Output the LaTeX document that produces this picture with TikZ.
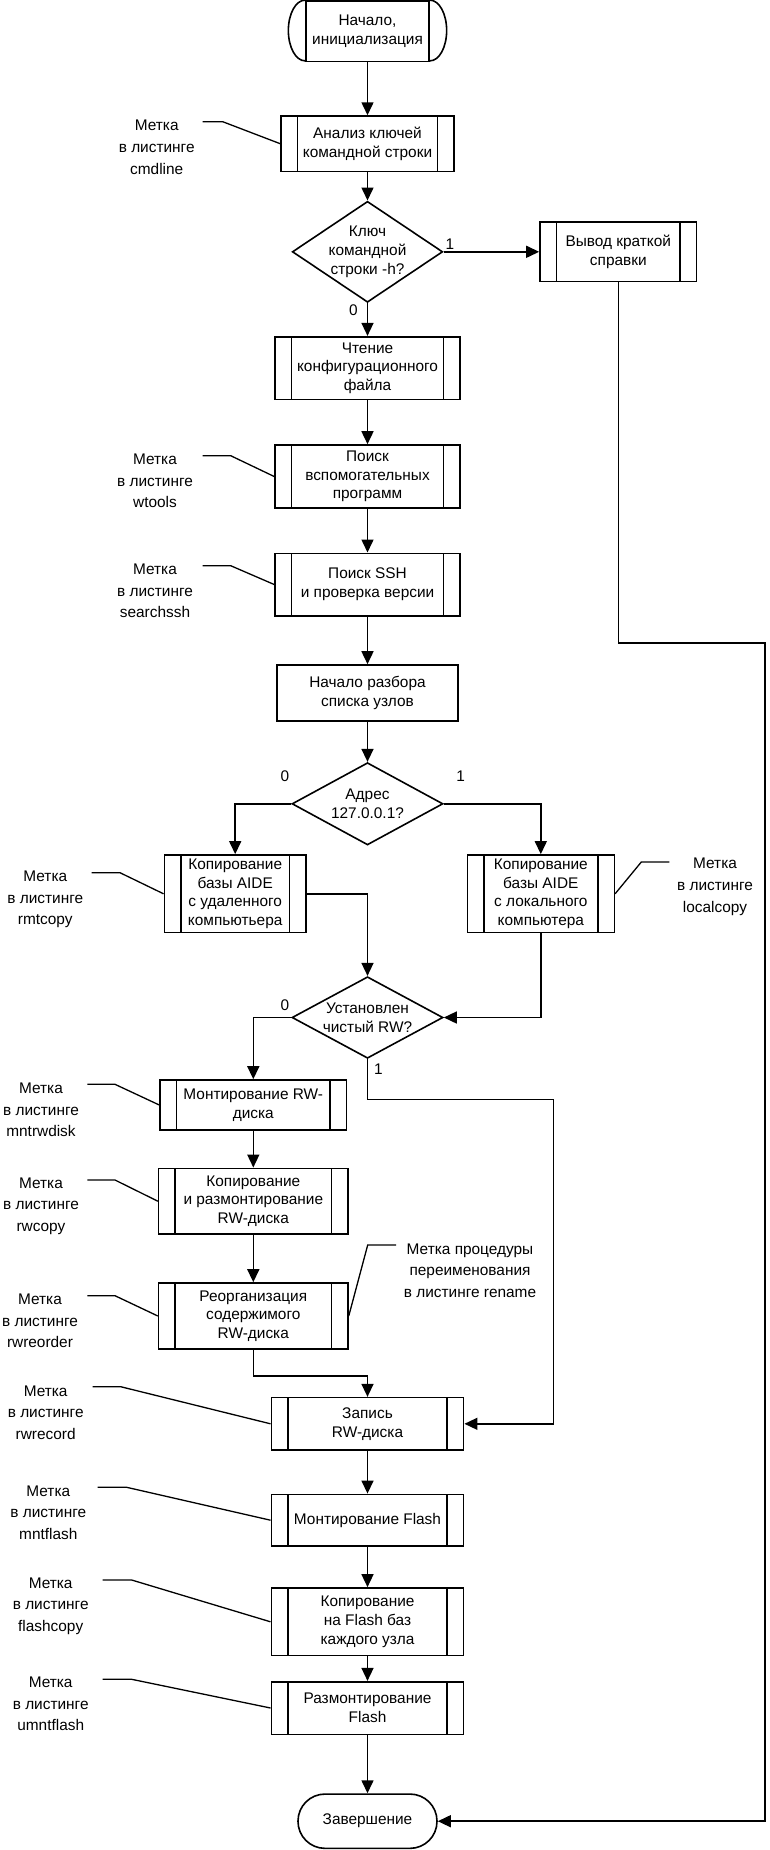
\documentclass[tikz,border=0pt]{standalone}
\usepackage{fontspec}
\setmainfont{Liberation Sans}
\usetikzlibrary{arrows.meta,shapes.geometric}
\begin{document}
\begin{tikzpicture}[x=1pt,y=-1pt,
  every node/.style={font=\fontsize{15.4}{18.7}\selectfont, align=center, inner sep=0pt},
  plainbox/.style={draw, line width=1.6pt, rectangle},
  proc/.style={draw, line width=1.6pt, rectangle, path picture={
    \draw[line width=1.6pt] ([xshift=16.5pt]path picture bounding box.north west) -- ([xshift=16.5pt]path picture bounding box.south west);
    \draw[line width=1.6pt] ([xshift=-16.5pt]path picture bounding box.north east) -- ([xshift=-16.5pt]path picture bounding box.south east);}},
  term/.style={draw, line width=1.6pt, rectangle, rounded corners=27pt},
  lbl/.style={font=\fontsize{15.4}{21.7}\selectfont},
  conn/.style={line width=1.5pt, -{Triangle[length=13pt,width=12pt]}},
  lead/.style={line width=1.3pt},
  flag/.style={font=\fontsize{15.4}{18}\selectfont}
]
\useasboundingbox (0,0) rectangle (769,1850);

% ---- shapes ----
\node[draw, line width=1.6pt, rectangle, minimum width=123.3pt, minimum height=60.7pt] (start) at (367.5,31.3) {Начало,\\инициализация};
\draw[line width=1.6pt] (start.north west) arc[start angle=90, end angle=270, x radius=16.7pt, y radius=30.35pt];
\draw[line width=1.6pt] (start.north east) arc[start angle=90, end angle=-90, x radius=16.7pt, y radius=30.35pt];

\node[proc, minimum width=173pt, minimum height=55.3pt] (cmd) at (367.5,143.7) {Анализ ключей\\командной строки};

\node[draw, line width=1.6pt, diamond, minimum width=150.4pt, minimum height=101pt] (d1) at (367.5,251.8) {};
\node (d1t) at (d1.center) {Ключ\\командной\\строки -h?};

\node[proc, minimum width=156.7pt, minimum height=59.4pt] (help) at (618.3,251.8) {Вывод краткой\\справки};

\node[proc, minimum width=185pt, minimum height=62.6pt] (read) at (367.5,368) {Чтение\\конфигурационного\\файла};
\node[proc, minimum width=185pt, minimum height=63pt] (wtools) at (367.5,476.5) {Поиск\\вспомогательных\\программ};
\node[proc, minimum width=185pt, minimum height=62.4pt] (ssh) at (367.5,584.5) {Поиск SSH\\и проверка версии};
\node[plainbox, minimum width=181pt, minimum height=56pt] (parse) at (367.5,693) {Начало разбора\\списка узлов};

\node[draw, line width=1.6pt, diamond, minimum width=151pt, minimum height=82.3pt] (d2) at (367.5,803.8) {};
\node (d2t) at (d2.center) {Адрес\\127.0.0.1?};

\node[proc, minimum width=141.7pt, minimum height=77.7pt] (rmt) at (235.2,893.8) {Копирование\\базы AIDE\\с удаленного\\компьютьера};
\node[proc, minimum width=147pt, minimum height=77.7pt] (loc) at (540.8,893.8) {Копирование\\базы AIDE\\с локального\\компьютера};

\node[draw, line width=1.6pt, diamond, minimum width=151pt, minimum height=81.6pt] (d3) at (367.5,1017.5) {};
\node (d3t) at (d3.center) {Установлен\\чистый RW?};

\node[proc, minimum width=186.4pt, minimum height=50pt] (mnt) at (253.3,1105) {Монтирование RW-\\диска};
\node[proc, minimum width=189.3pt, minimum height=65.7pt] (rwc) at (253.3,1201.2) {Копирование\\и размонтирование\\RW-диска};
\node[proc, minimum width=189.3pt, minimum height=66pt] (reo) at (253.3,1316) {Реорганизация\\содержимого\\RW-диска};

\node[proc, minimum width=192.3pt, minimum height=52.3pt] (rec) at (367.5,1423.8) {Запись\\RW-диска};
\node[proc, minimum width=192.3pt, minimum height=51.7pt] (mfl) at (367.5,1520.2) {Монтирование Flash};
\node[proc, minimum width=192.3pt, minimum height=67.7pt] (fcp) at (367.5,1621.8) {Копирование\\на Flash баз\\каждого узла};
\node[proc, minimum width=192.3pt, minimum height=52.6pt] (umf) at (367.5,1708) {Размонтирование\\Flash};
\node[term, minimum width=139pt, minimum height=54.3pt] (end) at (367.5,1821.2) {Завершение};

% ---- connectors ----
\draw[conn] (start) -- (cmd);
\draw[conn] (cmd) -- (d1.north);
\draw[conn] (d1.east) -- (help.west);
\draw[conn] (d1.south) -- (read.north);
\coordinate (hturn) at (618.3,643);
\coordinate (hright) at (765,643);
\draw[conn] (help.south) -- (hturn) -- (hright) |- (end.east);
\draw[conn] (read) -- (wtools);
\draw[conn] (wtools) -- (ssh);
\draw[conn] (ssh) -- (parse);
\draw[conn] (parse) -- (d2.north);
\draw[conn] (d2.west) -| (rmt.north);
\draw[conn] (d2.east) -| (loc.north);
\draw[conn] (rmt.east) -| (d3.north);
\draw[conn] (loc.south) |- (d3.east);
\draw[conn] (d3.west) -| (mnt.north);
\coordinate (d3jog) at (553.3,1099.3);
\draw[conn] (d3.south) |- (d3jog) |- (rec.east);
\draw[conn] (mnt) -- (rwc);
\draw[conn] (rwc) -- (reo);
\draw[conn] (reo.south) -- ++(0,26.3) -| (rec.north);
\draw[conn] (rec) -- (mfl);
\draw[conn] (mfl) -- (fcp);
\draw[conn] (fcp) -- (umf);
\draw[conn] (umf) -- (end);

% ---- branch flags ----
\node[flag] (f1) at (450,244) {1};
\node[flag] (f0) at (353.3,310) {0};
\node[flag] (f20) at (285,776) {0};
\node[flag] (f21) at (460.7,776) {1};
\node[flag] (f30) at (285,1005) {0};
\node[flag] (f31) at (378.3,1069) {1};

% ---- annotations ----
\node[lbl] (l1) at (156.7,147.3) {Метка\\в листинге\\cmdline};
\coordinate (l1a) at (202.7,121.7); \coordinate (l1b) at (222.7,121.7);
\draw[lead] (l1a) -- (l1b) -- (cmd.west);

\node[lbl] (l2) at (155,481) {Метка\\в листинге\\wtools};
\coordinate (l2a) at (202.7,455.7); \coordinate (l2b) at (230.7,455.7);
\draw[lead] (l2a) -- (l2b) -- (wtools.west);

\node[lbl] (l3) at (155,591) {Метка\\в листинге\\searchssh};
\coordinate (l3a) at (202.7,565.7); \coordinate (l3b) at (230.7,565.7);
\draw[lead] (l3a) -- (l3b) -- (ssh.west);

\node[lbl] (l4) at (45.3,899.3) {Метка\\в листинге\\rmtcopy};
\coordinate (l4a) at (91.7,872.7); \coordinate (l4b) at (120,872.7);
\draw[lead] (l4a) -- (l4b) -- (rmt.west);

\node[lbl] (l5) at (715,886.7) {Метка\\в листинге\\localcopy};
\coordinate (l5a) at (669.3,862); \coordinate (l5b) at (641.3,862);
\draw[lead] (l5a) -- (l5b) -- (loc.east);

\node[lbl] (l6) at (41,1110) {Метка\\в листинге\\mntrwdisk};
\coordinate (l6a) at (87.3,1084.3); \coordinate (l6b) at (115,1084.3);
\draw[lead] (l6a) -- (l6b) -- (mnt.west);

\node[lbl] (l7) at (41,1206) {Метка\\в листинге\\rwcopy};
\coordinate (l7a) at (87.3,1180); \coordinate (l7b) at (115,1180);
\draw[lead] (l7a) -- (l7b) -- (rwc.west);

\node[lbl] (l8) at (40,1321) {Метка\\в листинге\\rwreorder};
\coordinate (l8a) at (87.3,1295.7); \coordinate (l8b) at (115,1295.7);
\draw[lead] (l8a) -- (l8b) -- (reo.west);

\node[lbl] (l9) at (470,1270.7) {Метка процедуры\\переименования\\в листинге rename};
\coordinate (l9a) at (396,1245); \coordinate (l9b) at (367.7,1245);
\draw[lead] (l9a) -- (l9b) -- (reo.east);

\node[lbl] (l10) at (45.7,1412.7) {Метка\\в листинге\\rwrecord};
\coordinate (l10a) at (92.7,1386.7); \coordinate (l10b) at (120.7,1386.7);
\draw[lead] (l10a) -- (l10b) -- (rec.west);

\node[lbl] (l11) at (48.3,1512.7) {Метка\\в листинге\\mntflash};
\coordinate (l11a) at (97.7,1487.3); \coordinate (l11b) at (126.7,1487.3);
\draw[lead] (l11a) -- (l11b) -- (mfl.west);

\node[lbl] (l12) at (50.7,1606) {Метка\\в листинге\\flashcopy};
\coordinate (l12a) at (102.7,1580); \coordinate (l12b) at (131.7,1580);
\draw[lead] (l12a) -- (l12b) -- (fcp.west);

\node[lbl] (l13) at (50.7,1704) {Метка\\в листинге\\umntflash};
\coordinate (l13a) at (102.7,1679.3); \coordinate (l13b) at (131.7,1679.3);
\draw[lead] (l13a) -- (l13b) -- (umf.west);
\end{tikzpicture}
\end{document}
